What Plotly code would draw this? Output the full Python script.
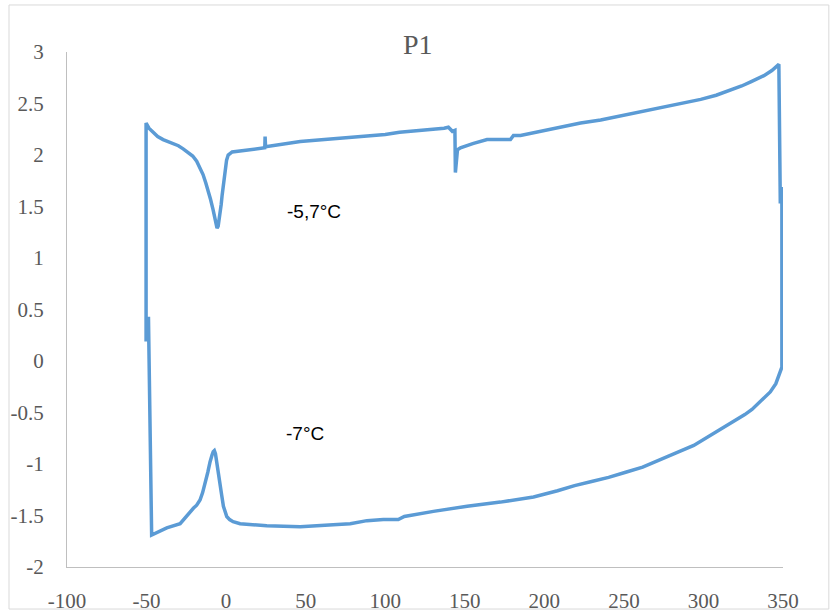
import plotly.graph_objects as go

# DSC loop P1: temperature (°C) and heat-flow signal, traced around the loop
temperature = [
    -50.3, -50.3, -48.5, -46.0, -43.0, -39.6, -36.0, -33.4, -30.0, -27.0, -24.0, -21.0, -18.5, -16.4,
    -14.5, -12.8, -11.3, -9.8, -8.2, -7.0, -6.2, -5.7, -5.0, -4.3, -3.8, -3.1, -2.5, -1.5, -0.6, 0.3,
    1.3, 2.5, 3.8,
    24.3, 24.5, 24.8, 46.6, 78.0, 100.0, 109.0, 132.6, 137.0, 139.7, 142.2, 143.8, 144.1, 145.4, 147.3,
    155.0, 164.0, 178.7, 180.6, 185.0, 222.8, 235.4, 266.8, 298.3, 308.0, 317.2, 324.0, 329.7, 334.0,
    338.0, 343.0, 347.4,
    348.3, 349.3, 349.3,
    347.5, 345.5, 342.0, 338.0, 334.8, 330.5, 326.0, 317.2, 304.6, 293.9, 283.2, 272.5, 261.8, 251.1,
    240.4, 229.7, 219.0, 208.3, 197.6, 193.2, 172.4, 151.5, 130.3, 115.8, 112.0, 108.2, 98.8, 88.5,
    78.0, 67.3, 57.1, 46.6, 25.6, 15.1, 8.8, 4.4, 2.2, 0.4, -0.8, -1.7, -2.8, -3.8, -4.9, -5.9, -6.7,
    -7.4, -8.1, -8.8, -9.5, -10.1, -11.5, -13.2, -14.8, -16.4, -18.5, -20.6, -24.7, -28.9, -37.3,
    -46.8, -48.8, -50.3,
]
heat_flow = [
    0.19, 2.31, 2.26, 2.22, 2.18, 2.15, 2.13, 2.11, 2.09, 2.06, 2.03, 1.99, 1.94, 1.88,
    1.81, 1.73, 1.66, 1.57, 1.47, 1.36, 1.31, 1.29, 1.31, 1.37, 1.42, 1.52, 1.61, 1.76, 1.88, 1.95,
    2.00, 2.02, 2.03,
    2.07, 2.18, 2.08, 2.13, 2.17, 2.20, 2.22, 2.25, 2.26, 2.27, 2.23, 2.24, 1.83, 2.05, 2.07,
    2.11, 2.15, 2.15, 2.19, 2.19, 2.31, 2.34, 2.44, 2.54, 2.58, 2.63, 2.67, 2.71, 2.74,
    2.77, 2.82, 2.88,
    1.53, 1.69, -0.06,
    -0.14, -0.22, -0.30, -0.36, -0.41, -0.47, -0.52, -0.60, -0.72, -0.82, -0.89, -0.96, -1.03, -1.08,
    -1.13, -1.17, -1.21, -1.26, -1.30, -1.32, -1.37, -1.41, -1.46, -1.50, -1.51, -1.54, -1.54, -1.55,
    -1.58, -1.59, -1.60, -1.61, -1.60, -1.59, -1.58, -1.56, -1.54, -1.51, -1.46, -1.41, -1.30, -1.19, -1.07, -0.96, -0.90,
    -0.87, -0.88, -0.91, -0.94, -0.98, -1.08, -1.19, -1.28, -1.35, -1.40, -1.43, -1.51, -1.58, -1.62,
    -1.69, 0.43, 0.19,
]

x_ticks = [-100, -50, 0, 50, 100, 150, 200, 250, 300, 350]
y_ticks = [3, 2.5, 2, 1.5, 1, 0.5, 0, -0.5, -1, -1.5, -2]
y_tick_text = ["3", "2.5", "2", "1.5", "1", "0.5", "0", "-0.5", "-1", "-1.5", "-2"]
x_tick_text = ["-100", "-50", "0", "50", "100", "150", "200", "250", "300", "350"]

annotations_text = ["-5,7°C", "-7°C"]
annotations_x = [55.4, 49.7]
annotations_y = [1.45, -0.70]

fig = go.Figure()
fig.add_trace(go.Scatter(
    x=temperature, y=heat_flow, mode="lines",
    line=dict(color="#5B9BD5", width=3.5),
    showlegend=False, hoverinfo="skip",
))

serif = "Liberation Serif, Times New Roman, serif"
grey = "#595959"

fig.update_layout(
    width=832, height=614,
    margin=dict(l=67, r=49, t=52, b=47),
    paper_bgcolor="white", plot_bgcolor="white",
    title=dict(text="P1", x=0.49, xref="paper", y=1 - 44 / 614, yanchor="middle",
               xanchor="center", font=dict(family=serif, size=28, color=grey)),
    xaxis=dict(range=[-100, 350], tickvals=x_ticks, ticktext=x_tick_text, showgrid=False,
               zeroline=False, showline=True, linecolor="#BFBFBF", linewidth=1, ticks="",
               automargin=False, ticklabelstandoff=15,
               tickfont=dict(family=serif, size=21, color=grey)),
    yaxis=dict(range=[-2, 3], tickvals=y_ticks, ticktext=y_tick_text, showgrid=False,
               zeroline=False, showline=True, linecolor="#BFBFBF", linewidth=1, ticks="",
               automargin=False, ticklabelstandoff=18,
               tickfont=dict(family=serif, size=21, color=grey)),
    shapes=[dict(type="rect", xref="paper", yref="paper", x0=-0.081, x1=1.064,
                 y0=-0.0816, y1=1.0913, line=dict(color="#D9D9D9", width=1))],
)

for t, ax, ay in zip(annotations_text, annotations_x, annotations_y):
    fig.add_annotation(x=ax, y=ay, xref="x", yref="y", text=t, showarrow=False,
                       font=dict(family="Liberation Sans, Arial, sans-serif", size=19, color="black"))

fig.add_annotation(x=368.8, y=-2.10, xref="x", yref="y", text="°C", showarrow=False,
                   font=dict(family=serif, size=24, color=grey))

fig.write_html("out.html")
